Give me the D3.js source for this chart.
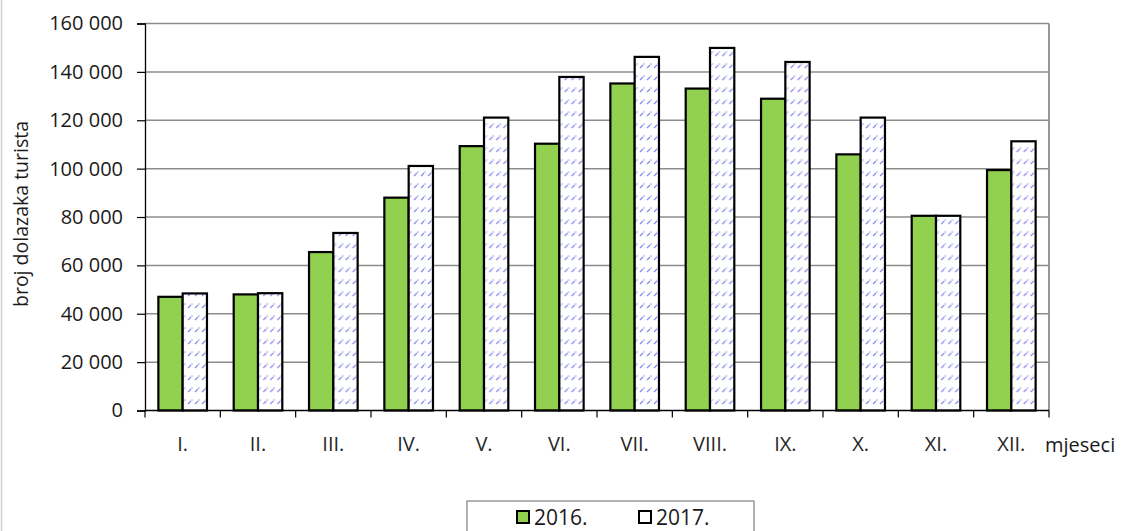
<!DOCTYPE html>
<html>
<head>
<meta charset="utf-8">
<script src="https://cdn.jsdelivr.net/npm/d3@7"></script>
<style>
  html, body { margin: 0; padding: 0; background: #fff; }
  svg { display: block; font-family: "Open Sans", "Liberation Sans", sans-serif; }
</style>
</head>
<body>
<div id="chart"></div>
<script>
// months (roman numerals) and tourist arrivals per year
var months = ["I.", "II.", "III.", "IV.", "V.", "VI.", "VII.", "VIII.", "IX.", "X.", "XI.", "XII."];
var series = ["2016.", "2017."];
var values2016 = [47000, 48000, 65500, 88000, 109300, 110300, 135200, 133100, 128900, 105900, 80500, 99400];
var values2017 = [48400, 48500, 73400, 101100, 121100, 137900, 146200, 149900, 144100, 121100, 80500, 111300];
var yTicks = [0, 20000, 40000, 60000, 80000, 100000, 120000, 140000, 160000];

var width = 1123, height = 531;
var plot = { left: 145, right: 1049, top: 23.5, bottom: 410.5 };

var svg = d3.select("#chart").append("svg")
    .attr("width", width)
    .attr("height", height);

// hatch pattern for the 2017 bars (blue dashes on white)
var defs = svg.append("defs");
var pat = defs.append("pattern")
    .attr("id", "hatch")
    .attr("patternUnits", "userSpaceOnUse")
    .attr("width", 7)
    .attr("height", 12);
pat.append("rect").attr("width", 7).attr("height", 12).attr("fill", "#fff");
pat.append("path")
    .attr("d", "M1,8 L4,5")
    .attr("stroke", "#8282f2")
    .attr("stroke-width", 1.1)
    .attr("fill", "none");
pat.append("circle")
    .attr("cx", 5).attr("cy", 4).attr("r", 0.7)
    .attr("fill", "#8282f2");

// outer chart frame (only left edge shows)
svg.append("line")
    .attr("x1", 1.5).attr("x2", 1.5).attr("y1", 0).attr("y2", height)
    .attr("stroke", "#d0d0d0").attr("stroke-width", 1.5);

var x0 = d3.scaleBand().domain(months).range([plot.left, plot.right]).padding(0);
var x1 = d3.scaleBand().domain(series).range([0, x0.bandwidth()]).paddingInner(0).paddingOuter(0.55);
var y = d3.scaleLinear().domain([0, 160000]).range([plot.bottom, plot.top]);

// gridlines
svg.append("g")
    .selectAll("line")
    .data(yTicks.slice(1))
    .enter().append("line")
    .attr("x1", plot.left).attr("x2", plot.right)
    .attr("y1", function(d) { return y(d); })
    .attr("y2", function(d) { return y(d); })
    .attr("stroke", "#8c8c8c")
    .attr("stroke-width", 1.5);

// plot area border, right side
svg.append("line")
    .attr("x1", plot.right).attr("x2", plot.right)
    .attr("y1", plot.top).attr("y2", plot.bottom)
    .attr("stroke", "#8c8c8c").attr("stroke-width", 1.8);

// bars
var data = months.map(function(m, i) {
    return { month: m, vals: [
        { key: series[0], value: values2016[i] },
        { key: series[1], value: values2017[i] }
    ] };
});

var groups = svg.append("g")
    .selectAll("g")
    .data(data)
    .enter().append("g")
    .attr("transform", function(d) { return "translate(" + x0(d.month) + ",0)"; });

groups.selectAll("rect")
    .data(function(d) { return d.vals; })
    .enter().append("rect")
    .attr("x", function(d) { return x1(d.key); })
    .attr("y", function(d) { return y(d.value); })
    .attr("width", x1.bandwidth())
    .attr("height", function(d) { return y(0) - y(d.value); })
    .attr("fill", function(d) { return d.key === series[0] ? "#92d050" : "url(#hatch)"; })
    .attr("stroke", "#000")
    .attr("stroke-width", 2.2);

// y axis
var yAxis = svg.append("g")
    .attr("transform", "translate(" + plot.left + ",0)")
    .call(d3.axisLeft(y)
        .tickValues(yTicks)
        .tickSize(8)
        .tickPadding(14)
        .tickFormat(function(d) { return d3.format(",")(d).replace(/,/g, " "); }));
yAxis.select(".domain").attr("stroke", "#000").attr("stroke-width", 1.3);
yAxis.selectAll(".tick line").attr("stroke", "#000").attr("stroke-width", 1.2);
yAxis.selectAll("text")
    .attr("font-size", 20)
    .attr("fill", "#1a1a1a")
    .style("font-family", "'Open Sans', sans-serif");

// x axis: ticks at band edges
var xAxis = svg.append("g")
    .attr("transform", "translate(0," + plot.bottom + ")");
xAxis.append("line")
    .attr("x1", plot.left).attr("x2", plot.right)
    .attr("stroke", "#000").attr("stroke-width", 1.3);
xAxis.selectAll(".edge")
    .data(months.concat(["end"]))
    .enter().append("line")
    .attr("class", "edge")
    .attr("x1", function(d, i) { return plot.left + i * x0.step(); })
    .attr("x2", function(d, i) { return plot.left + i * x0.step(); })
    .attr("y1", 0).attr("y2", 7)
    .attr("stroke", "#000").attr("stroke-width", 1.2);
xAxis.selectAll(".lab")
    .data(months)
    .enter().append("text")
    .attr("class", "lab")
    .attr("x", function(d) { return x0(d) + x0.bandwidth() / 2; })
    .attr("y", 40)
    .attr("text-anchor", "middle")
    .attr("font-size", 20)
    .attr("fill", "#262626")
    .text(function(d) { return d; });

// axis titles
svg.append("text")
    .attr("x", 1045).attr("y", plot.bottom + 41)
    .attr("font-size", 20)
    .attr("fill", "#1a1a1a")
    .text("mjeseci");

svg.append("text")
    .attr("transform", "translate(28," + ((plot.top + plot.bottom) / 2 - 3) + ") rotate(-90)")
    .attr("text-anchor", "middle")
    .attr("font-size", 19.5)
    .attr("fill", "#1a1a1a")
    .text("broj dolazaka turista");

// legend
var legend = svg.append("g");
legend.append("rect")
    .attr("x", 467).attr("y", 501)
    .attr("width", 287).attr("height", 50)
    .attr("fill", "#fff")
    .attr("stroke", "#7f7f7f")
    .attr("stroke-width", 1.2);

var legX = [517, 639];
var items = legend.selectAll(".item")
    .data(series)
    .enter().append("g")
    .attr("class", "item")
    .attr("transform", function(d, i) { return "translate(" + legX[i] + ",511)"; });
items.append("rect")
    .attr("width", 12).attr("height", 12)
    .attr("fill", function(d, i) { return i === 0 ? "#92d050" : "#fff"; })
    .attr("stroke", "#000")
    .attr("stroke-width", 2);
items.append("text")
    .attr("x", 17).attr("y", 13.5)
    .attr("font-size", 21)
    .attr("fill", "#1a1a1a")
    .text(function(d) { return d; });
</script>
</body>
</html>
